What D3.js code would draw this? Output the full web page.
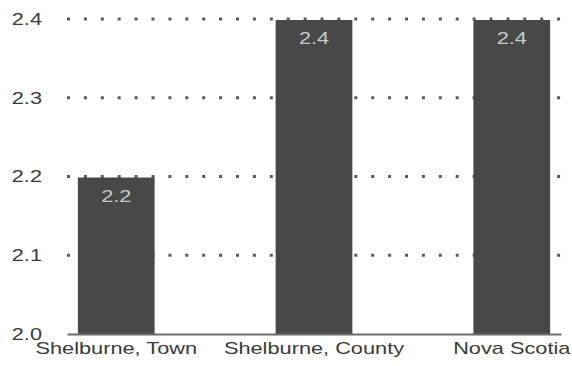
<!DOCTYPE html>
<html>
<head>
<meta charset="utf-8">
<script src="https://cdn.jsdelivr.net/npm/d3@7"></script>
<style>
  body { margin: 0; background: #fff; }
  text { font-family: "Liberation Sans", Arial, sans-serif; }
</style>
</head>
<body>
<div id="chart"></div>
<script>
// data
var categories = ["Shelburne, Town", "Shelburne, County", "Nova Scotia"];
var values = [2.2, 2.4, 2.4];
var yTicks = [2.0, 2.1, 2.2, 2.3, 2.4];

// set the dimensions and margins of the graph
var W = 572, H = 366;
var margin = {top: 19, right: 9, bottom: 32, left: 67},
    width = W - margin.left - margin.right,
    height = H - margin.top - margin.bottom;

var stretch = 1.28; // text in the picture is drawn wider than normal

var svg = d3.select("#chart")
    .append("svg")
    .attr("width", W)
    .attr("height", H)
    .append("g")
    .attr("transform", "translate(" + margin.left + "," + margin.top + ")");

var x = d3.scaleBand()
    .domain(categories)
    .range([0, width - 2])
    .paddingInner(0.612)
    .paddingOuter(0.055);

var y = d3.scaleLinear()
    .domain([2.0, 2.4])
    .range([height, 0]);

// dotted grid lines
svg.append("g")
    .selectAll("line")
    .data(yTicks.filter(d => d > 2.0))
    .enter().append("line")
    .attr("x1", 0)
    .attr("x2", width)
    .attr("y1", d => y(d))
    .attr("y2", d => y(d))
    .attr("stroke", "#5a5a5a")
    .attr("stroke-width", 3)
    .attr("stroke-dasharray", "3 13.9");

// bars
svg.selectAll(".bar")
    .data(values)
    .enter().append("rect")
    .attr("class", "bar")
    .attr("x", (d, i) => x(categories[i]))
    .attr("width", x.bandwidth())
    .attr("y", d => y(d) + 1)
    .attr("height", d => height - y(d) - 1)
    .attr("fill", "#474848");

// value labels
svg.selectAll(".val")
    .data(values)
    .enter().append("text")
    .attr("class", "val")
    .attr("transform", (d, i) => "translate(" + (x(categories[i]) + x.bandwidth() / 2) + "," + (y(d) + 25) + ") scale(" + stretch + ",1)")
    .attr("text-anchor", "middle")
    .attr("font-size", "17px")
    .attr("fill", "#c9c9c9")
    .text(d => d.toFixed(1));

// Y axis
var yAxis = svg.append("g")
    .call(d3.axisLeft(y).tickValues(yTicks).tickSize(0).tickPadding(0).tickFormat(d3.format(".1f")));
yAxis.select(".domain").remove();
yAxis.selectAll("text")
    .attr("x", -25 / stretch)
    .attr("transform", "scale(" + stretch + ",1)")
    .attr("font-size", "17px")
    .attr("fill", "#3a3a3a");

// X axis
var xAxis = svg.append("g")
    .attr("transform", "translate(0," + height + ")")
    .call(d3.axisBottom(x).tickSize(0).tickPadding(8));
xAxis.select(".domain")
    .attr("stroke", "#6a6a6a")
    .attr("stroke-width", 2);
xAxis.selectAll("text")
    .attr("transform", "scale(" + stretch + ",1)")
    .attr("font-size", "17px")
    .attr("fill", "#3a3a3a");
</script>
</body>
</html>
